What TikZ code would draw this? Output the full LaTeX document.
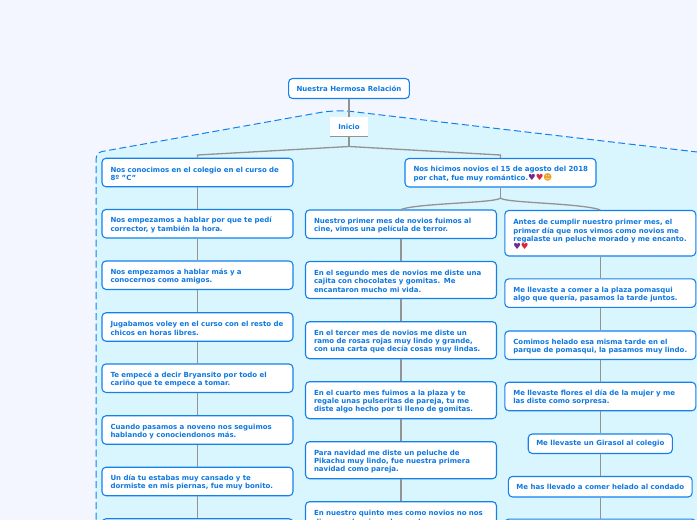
\documentclass[tikz,border=0pt]{standalone}
\usepackage{fontspec}
\setmainfont{DejaVu Sans}
\usetikzlibrary{positioning, calc}
\definecolor{cpage}{HTML}{F3F6FF}
\definecolor{cregion}{HTML}{D9F6FF}
\definecolor{cblue}{HTML}{1480EE}
\definecolor{ctext}{HTML}{0F78E0}
\definecolor{cgrey}{HTML}{939393}
\definecolor{cpurple}{HTML}{6A2C91}
\definecolor{cred}{HTML}{E0243A}
\definecolor{cface}{HTML}{E8A020}
\tikzset{
  every picture/.style={x=1pt, y=-1pt, font=\fontsize{7}{8.4}\selectfont\bfseries, text=ctext},
  memo/.style={draw=cblue, fill=white, line width=1.1pt, rounded corners=4pt, inner xsep=8.5pt, inner ysep=0pt, text width=174pt, align=left, minimum height=#1, execute at begin node={\rule{0pt}{8pt}}},
  memo/.default=28.5pt,
  shortmemo/.style={draw=cblue, fill=white, line width=1.1pt, rounded corners=4pt, inner xsep=8pt, inner ysep=0pt, align=center, minimum height=#1},
  link/.style={draw=cgrey, line width=1.3pt},
  region/.style={draw=cblue, fill=cregion, line width=1pt, dash pattern=on 7pt off 3.5pt},
}
\newcommand{\hearts}{{\fontsize{8.5}{8.4}\selectfont\textcolor{cpurple}{\char"2665}\textcolor{cred}{\char"2665}}}
\begin{document}
\begin{tikzpicture}
  \useasboundingbox (0,0) rectangle (697,520);
  \clip (0,0) rectangle (697,520);
  \fill[cpage] (0,0) rectangle (697,520);
  % dashed region behind everything
  \draw[region] (96,530) -- (96,160) .. controls (96,155) and (98,152.5) .. (102,151.5)
    -- (323,112) .. controls (335,110.5) and (348,110.5) .. (360,112.5) -- (710,153.5) -- (710,530) -- cycle;
  % top of the map
  \node[shortmemo=20pt] (root) at (349,88.5) {Nuestra Hermosa Relación};
  \node[fill=white, minimum width=38pt, minimum height=19pt, inner sep=0pt] (inicio) at (349,126.5) {Inicio};
  \node[memo] (lzero) at (197.5,172.5) {Nos conocimos en el colegio en el curso de\\8º "C"};
  \node[memo] (rzero) at (500.5,172.7) {\mbox{Nos hicimos novios el 15 de agosto del 2018}\\por chat, fue muy romántico.\hearts{\fontsize{8.5}{8.4}\selectfont\textcolor{cface}{\char"263B}}};
  % left column
  \foreach \n/\y/\t in {
    lone/223.7/{Nos empezamos a hablar por que te pedí\\corrector, y también la hora.},
    ltwo/275.2/{Nos empezamos a hablar más y a\\conocernos como amigos.},
    lthree/327/{Jugabamos voley en el curso con el resto de\\chicos en horas libres.},
    lfour/378.2/{Te empecé a decir Bryansito por todo el\\cariño que te empece a tomar.},
    lfive/430/{Cuando pasamos a noveno nos seguimos\\hablando y conociendonos más.},
    lsix/481.5/{Un día tu estabas muy cansado y te\\dormiste en mis piernas, fue muy bonito.},
    lseven/533/{}}
    \node[memo] (\n) at (197.5,\y) {\t};
  % middle column
  \node[memo] (mone) at (401,224.2) {Nuestro primer mes de novios fuimos al\\cine, vimos una película de terror.};
  \foreach \n/\y/\t in {
    mtwo/280/{En el segundo mes de novios me diste una\\cajita con chocolates y gomitas. Me\\encantaron mucho mi vida.},
    mthree/340.2/{En el tercer mes de novios me diste un\\ramo de rosas rojas muy lindo y grande,\\con una carta que decía cosas muy lindas.},
    mfour/400.2/{En el cuarto mes fuimos a la plaza y te\\regale unas pulseritas de pareja, tu me\\diste algo hecho por ti lleno de gomitas.},
    mfive/460.2/{Para navidad me diste un peluche de\\Pikachu muy lindo, fue nuestra primera\\navidad como pareja.},
    msix/520.2/{En nuestro quinto mes como novios no nos\\dimos nada, sin embargo, lo pasamos muy\\\mbox{}}}
    \node[memo=37pt] (\n) at (401,\y) {\t};
  % right column
  \node[memo=45.5pt] (rone) at (600.3,233.2) {Antes de cumplir nuestro primer mes, el\\primer día que nos vimos como novios me\\regalaste un peluche morado y me encanto.\\\hearts};
  \foreach \n/\y/\t in {
    rtwo/293.1/{Me llevaste a comer a la plaza pomasqui\\algo que quería, pasamos la tarde juntos.},
    rthree/345.2/{Comimos helado esa misma tarde en el\\parque de pomasqui, la pasamos muy lindo.},
    rfour/396.5/{Me llevaste flores el día de la mujer y me\\las diste como sorpresa.}}
    \node[memo] (\n) at (600.3,\y) {\t};
  \node[shortmemo=19.5pt] (rfive) at (600.3,443.7) {Me llevaste un Girasol al colegio};
  \node[shortmemo=20.5pt] (rsix) at (600.3,486.7) {Me has llevado a comer helado al condado};
  \node[memo] (rseven) at (600.3,533.3) {};
  % connectors
  \coordinate (isplit) at (349,146.5);
  \coordinate (lknee) at (197.5,155);
  \coordinate (rknee) at (500.5,155);
  \coordinate (rsplit) at (500.5,198);
  \draw[link] (root) -- (inicio);
  \draw[link, line width=1pt] (inicio.south west) -- (inicio.south east);
  \draw[link] (inicio) -- (isplit);
  \draw[link] (lzero.north) -- (lknee) -- (isplit) -- (rknee) -- (rzero.north);
  \draw[link] (rzero) -- (rsplit);
  \draw[link] (rsplit) .. controls (497,203) and (420,203) .. (mone.north);
  \draw[link] (rsplit) .. controls (504,203) and (581,203) .. (rone.north);
  \foreach \a/\b in {lzero/lone,lone/ltwo,ltwo/lthree,lthree/lfour,lfour/lfive,lfive/lsix,lsix/lseven,
    mone/mtwo,mtwo/mthree,mthree/mfour,mfour/mfive,mfive/msix,
    rone/rtwo,rtwo/rthree,rthree/rfour,rfour/rfive,rfive/rsix,rsix/rseven}
    \draw[link] (\a) -- (\b);
\end{tikzpicture}
\end{document}
